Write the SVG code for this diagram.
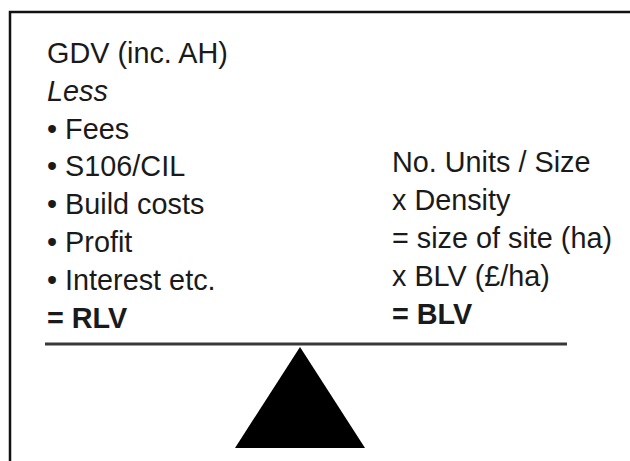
<svg xmlns="http://www.w3.org/2000/svg" width="630" height="461" viewBox="0 0 630 461">
<style>
.t{font-family:"Liberation Sans",Arial,sans-serif;font-size:28.8px;fill:#1a1a1a}
.b{font-weight:bold}
.i{font-style:italic}
</style>
<rect width="630" height="461" fill="#fff"/>
<g id="frame"><polyline points="10,461 10,12 630,12" fill="none" stroke="#111" stroke-width="2.5"/></g>
<g id="rlv">
<text class="t" x="47" y="63">GDV (inc. AH)</text>
<text class="t i" x="47" y="101">Less</text>
<text class="t" x="47" y="139">• Fees</text>
<text class="t" x="47" y="176">• S106/CIL</text>
<text class="t" x="47" y="214">• Build costs</text>
<text class="t" x="47" y="252">• Profit</text>
<text class="t" x="47" y="290">• Interest etc.</text>
<text class="t b" x="47" y="328">= RLV</text>
</g>
<g id="blv">
<text class="t" x="392" y="172">No. Units / Size</text>
<text class="t" x="392" y="210">x Density</text>
<text class="t" x="392" y="248">= size of site (ha)</text>
<text class="t" x="392" y="286">x BLV (£/ha)</text>
<text class="t b" x="392" y="324">= BLV</text>
</g>
<g id="beam"><line x1="45" y1="344" x2="567" y2="344" stroke="#383838" stroke-width="3"/></g>
<g id="fulcrum"><polygon points="300,347 235,448 365,448" fill="#000"/></g>
</svg>
